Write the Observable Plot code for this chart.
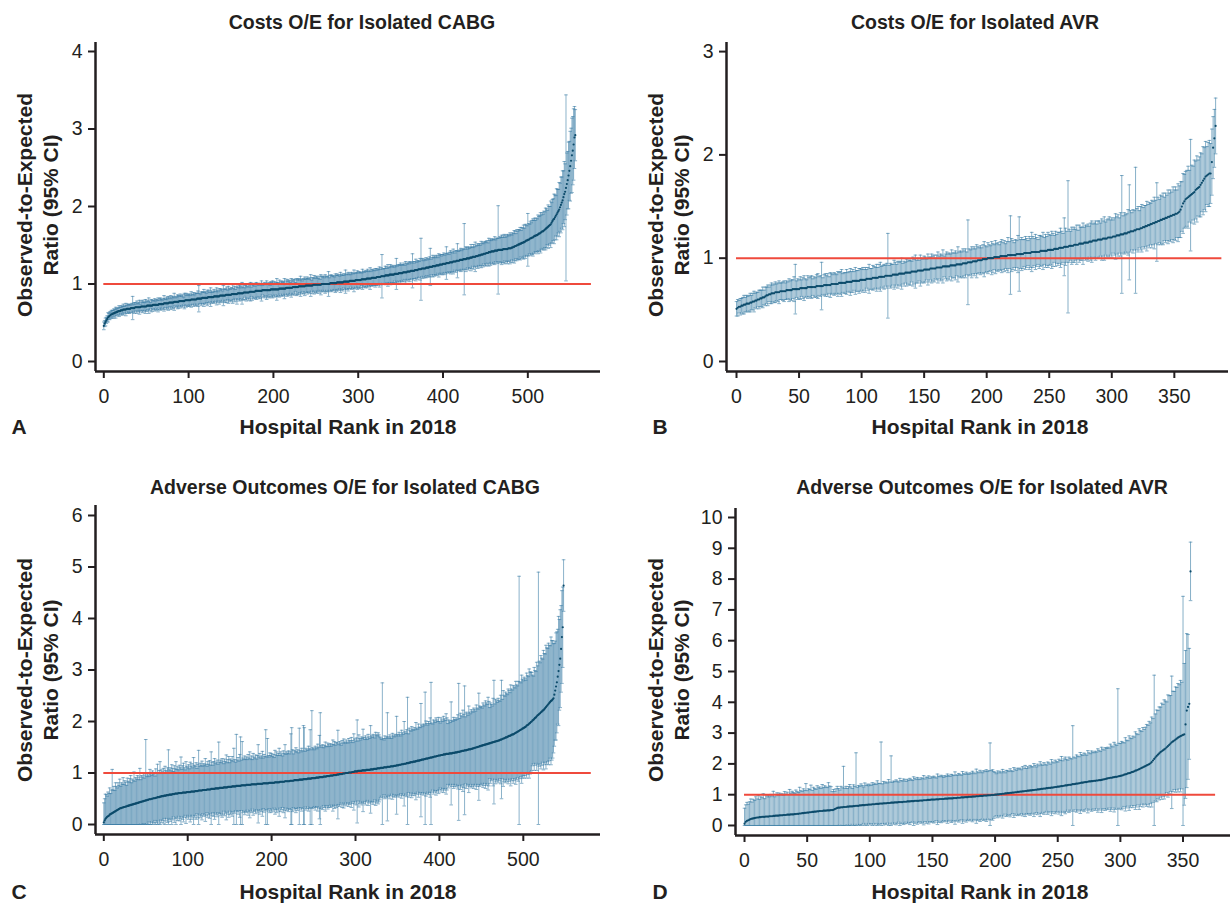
<!DOCTYPE html>
<html>
<head>
<meta charset="utf-8">
<script src="https://cdn.jsdelivr.net/npm/d3@7"></script>
<script src="https://cdn.jsdelivr.net/npm/@observablehq/plot@0.6"></script>
<style>
  html, body { margin: 0; padding: 0; background: #ffffff; }
  #fig { position: relative; width: 1232px; height: 903px; overflow: hidden; font-family: "Liberation Sans", Arial, Helvetica, sans-serif; color: #231f20; }
  .pan { position: absolute; }
  .t { position: absolute; transform: translate(-50%, -50%); white-space: nowrap; font-weight: bold; }
  .title { font-size: 19.5px; }
  .xlab { font-size: 21px; }
  .ylab { font-size: 21px; line-height: 25.5px; text-align: center; transform: translate(-50%, -50%) rotate(-90deg); }
  .letter { font-size: 21px; }
</style>
</head>
<body>
<div id="fig"></div>
<script>
// ---------------- DATA (O/E in hundredths) ----------------
const xTicksA = [0, 100, 200, 300, 400, 500];
const yTicksA = [0, 1, 2, 3, 4];
const xTicksB = [0, 50, 100, 150, 200, 250, 300, 350];
const yTicksB = [0, 1, 2, 3];
const xTicksC = [0, 100, 200, 300, 400, 500];
const yTicksC = [0, 1, 2, 3, 4, 5, 6];
const xTicksD = [0, 50, 100, 150, 200, 250, 300, 350];
const yTicksD = [0, 1, 2, 3, 4, 5, 6, 7, 8, 9, 10];
const referenceRatio = 1;

// Panel A: Costs O/E, isolated CABG (observed-to-expected ratio x100, CI half-width x100)
const oeA = [
46,49,51,53,55,57,58,59,60,61, 61,62,62,63,63,64,64,65,65,65, 66,66,66,67,67,67,67,68,68,68, 68,68,69,69,69,69,69,70,70,70,
70,70,70,70,71,71,71,71,71,71, 71,72,72,72,72,72,72,72,73,73, 73,73,73,73,73,74,74,74,74,74, 74,75,75,75,75,75,75,76,76,76,
76,76,76,77,77,77,77,77,77,78, 78,78,78,78,78,78,79,79,79,79, 79,79,79,80,80,80,80,80,80,80, 81,81,81,81,81,81,82,82,82,82,
82,82,82,83,83,83,83,83,83,83, 84,84,84,84,84,84,84,85,85,85, 85,85,85,85,86,86,86,86,86,86, 86,87,87,87,87,87,87,87,88,88,
88,88,88,88,88,89,89,89,89,89, 89,89,90,90,90,90,90,90,90,91, 91,91,91,91,91,91,91,92,92,92, 92,92,92,92,92,92,92,93,93,93,
93,93,93,93,93,93,93,94,94,94, 94,94,94,94,94,95,95,95,95,95, 95,95,95,96,96,96,96,96,96,96, 97,97,97,97,97,97,97,97,98,98,
98,98,98,98,98,98,98,99,99,99, 99,99,99,99,99,99,99,100,100,100, 100,100,100,100,100,100,100,101,101,101, 101,101,101,101,101,102,102,102,102,102,
102,102,102,103,103,103,103,103,103,103, 104,104,104,104,104,104,104,105,105,105, 105,105,105,105,106,106,106,106,106,106, 107,107,107,107,107,107,108,108,108,108,
108,108,109,109,109,109,109,110,110,110, 110,110,111,111,111,111,111,112,112,112, 112,112,112,113,113,113,113,113,114,114, 114,114,114,115,115,115,115,115,116,116,
116,116,117,117,117,117,117,118,118,118, 118,119,119,119,119,120,120,120,120,120, 121,121,121,121,122,122,122,122,123,123, 123,123,124,124,124,124,125,125,125,125,
126,126,126,126,127,127,127,127,128,128, 128,128,129,129,129,129,130,130,130,130, 131,131,131,131,132,132,132,132,133,133, 133,133,134,134,134,135,135,135,135,136,
136,136,137,137,137,138,138,138,139,139, 139,140,140,140,141,141,141,142,142,142, 142,143,143,143,143,144,144,144,144,144, 144,145,145,145,145,145,145,146,146,146,
146,147,147,148,148,149,149,150,150,151, 151,152,152,153,153,154,154,155,156,156, 157,157,158,159,159,160,160,161,162,162, 163,163,164,165,165,166,167,168,168,169,
170,171,172,173,174,175,176,177,179,181, 183,184,186,188,190,192,194,196,199,202, 205,208,212,216,219,224,229,234,240,246,
252,259,266,272,280,289,292
];
const hwA = [
5,4,5,4,4,6,4,5,4,5, 5,4,6,4,7,4,5,4,7,5, 4,6,5,7,4,5,8,4,6,5, 6,5,4,6,15,5,7,6,4,8,
5,6,9,4,7,5,8,6,5,9, 6,7,5,10,6,4,8,7,5,6, 8,5,7,6,9,5,7,8,6,5, 7,10,6,5,8,6,9,7,5,9,
6,8,7,11,5,7,6,9,8,6, 9,7,6,8,5,10,7,9,6,8, 7,8,6,10,7,6,9,6,8,8, 7,10,17,7,6,9,7,8,11,7,
8,6,10,7,9,6,12,8,6,7, 9,7,6,11,8,6,10,7,9,8, 6,13,8,9,7,10,6,11,8,7, 9,8,12,7,10,6,9,13,8,7,
10,9,7,14,8,10,6,9,11,8, 7,10,9,12,6,11,8,9,7,10, 11,8,9,7,10,9,13,6,9,8, 10,7,12,9,8,10,6,10,9,11,
8,10,7,9,14,9,8,11,7,9, 10,8,9,13,7,9,11,8,10,9, 7,12,9,10,8,10,6,11,9,10, 10,8,13,9,7,10,9,12,8,9,
11,9,8,10,14,7,10,9,12,8, 10,11,9,8,11,7,13,10,9,10, 8,12,10,9,10,16,8,10,11,9, 10,9,8,12,10,11,9,10,8,13,
10,9,11,8,10,15,9,10,12,9, 10,8,11,10,9,14,10,9,10,12, 9,11,10,10,8,13,10,9,11,10, 10,12,9,10,14,9,11,10,10,9,
12,10,11,9,10,13,10,11,28,9, 10,10,12,11,9,14,10,10,13,11, 10,12,10,9,11,20,10,12,10,11, 13,10,11,10,12,9,14,11,10,12,
10,13,11,10,22,12,10,11,14,10, 12,11,10,14,40,11,13,10,12,11, 13,10,12,11,13,24,10,12,14,11, 13,11,13,12,10,15,12,13,11,13,
12,14,11,13,21,12,13,11,13,15, 13,12,16,13,11,14,13,22,12,13, 13,15,12,14,13,46,13,16,14,12, 15,13,13,17,14,12,16,13,19,13,
14,16,13,15,13,17,14,16,13,15, 16,14,16,13,18,15,17,14,16,16, 15,18,14,16,16,57,15,17,16,19, 16,17,19,15,18,16,19,17,16,20,
18,16,19,17,21,19,16,20,18,19, 19,21,17,20,19,22,18,22,20,19, 34,21,19,22,20,22,24,21,23,20, 22,21,25,22,23,26,22,24,22,25,
23,27,25,22,28,25,24,30,26,28, 27,32,29,26,33,30,28,35,31,36, 33,38,34,42,36,120,40,37,43,38,
45,42,48,44,46,40,33
];

// Panel B: Costs O/E, isolated AVR
const oeB = [
51,52,53,53,54,54,55,55,56,56, 56,57,57,58,58,59,59,60,60,61, 61,62,62,63,64,64,65,65,66,66, 66,67,67,67,67,68,68,68,68,68,
69,69,69,69,69,70,70,70,70,70, 70,71,71,71,71,71,71,72,72,72, 72,72,72,72,73,73,73,73,73,73, 74,74,74,74,74,74,75,75,75,75,
75,75,76,76,76,76,76,76,77,77, 77,77,77,78,78,78,78,78,78,79, 79,79,79,79,80,80,80,80,80,81, 81,81,81,81,82,82,82,82,82,83,
83,83,83,83,83,84,84,84,84,84, 85,85,85,85,85,86,86,86,86,86, 87,87,87,87,87,88,88,88,88,88, 89,89,89,89,89,90,90,90,90,90,
91,91,91,91,91,92,92,92,92,92, 92,93,93,93,93,93,94,94,94,94, 94,95,95,95,95,96,96,96,96,97, 97,97,97,98,98,98,98,99,99,99,
99,100,100,100,100,100,101,101,101,101, 101,102,102,102,102,102,102,103,103,103, 103,103,103,103,104,104,104,104,104,104, 105,105,105,105,105,105,106,106,106,106,
106,106,106,107,107,107,107,107,107,108, 108,108,108,108,109,109,109,109,110,110, 110,110,111,111,111,111,112,112,112,112, 113,113,113,113,114,114,114,114,115,115,
115,115,116,116,116,117,117,117,117,118, 118,118,118,119,119,119,119,120,120,120, 120,121,121,121,122,122,122,123,123,123, 124,124,124,125,125,126,126,126,127,127,
128,128,128,129,129,130,130,131,131,132, 132,133,133,134,134,135,135,136,136,137, 137,138,138,139,139,140,140,141,141,142, 142,143,143,144,145,147,150,153,155,157,
158,159,160,161,162,163,164,166,167,168, 169,171,173,175,177,179,180,181,182,182, 193,207,216,228
];
const hwB = [
7,8,6,8,7,8,9,7,8,7, 8,9,7,8,10,7,8,7,9,8, 8,10,7,9,8,10,7,9,10,8, 9,10,8,9,11,8,8,9,10,8,
9,8,11,9,10,9,12,24,8,10, 9,11,8,10,12,9,8,11,9,10, 11,8,10,9,11,12,9,10,23,8, 10,11,9,11,8,12,10,9,11,10,
9,12,10,11,13,9,10,10,12,9, 10,13,10,11,9,13,10,10,12,11, 10,12,10,12,9,11,14,10,10,12, 11,10,13,10,12,14,10,11,12,10,
12,41,10,12,11,10,14,12,10,13, 11,12,15,10,12,10,13,11,12,12, 10,14,12,16,11,12,10,15,12,11, 13,12,10,15,12,11,14,12,13,10,
12,15,11,13,12,16,10,12,14,12, 13,11,15,12,12,14,11,17,12,13, 12,14,12,14,11,41,13,12,15,12, 14,12,16,13,12,14,12,14,17,13,
12,15,13,12,16,14,12,16,13,14, 12,14,16,13,15,12,14,17,13,38, 16,14,12,15,13,18,36,14,16,14, 13,16,14,12,16,14,19,15,13,17,
14,12,16,15,14,18,13,16,14,17, 15,14,18,16,13,17,14,16,15,19, 16,14,28,18,15,64,16,14,18,16, 17,15,19,14,18,16,16,20,15,17,
16,18,15,18,20,16,17,19,16,18, 18,16,20,17,21,16,18,18,20,17, 19,16,18,22,18,20,17,21,57,18, 20,18,19,22,46,20,18,21,19,61,
20,22,18,21,23,19,21,20,24,20, 22,20,23,21,25,21,38,23,21,24, 23,25,21,24,22,26,23,25,23,27, 24,26,23,28,25,27,24,29,26,27,
27,30,25,54,28,26,31,28,32,27, 29,31,28,33,30,34,28,31,32,29, 32,30,28,27
];

// Panel C: Adverse outcomes O/E, isolated CABG
const oeC = [
4,8,11,13,15,16,17,19,20,21, 22,23,24,25,26,27,28,29,30,31, 32,32,33,33,34,34,35,35,36,36, 37,37,38,38,39,39,40,40,41,41,
42,42,43,43,44,44,45,45,46,46, 47,47,48,48,49,49,49,50,50,51, 51,51,52,52,53,53,53,54,54,55, 55,55,56,56,56,57,57,57,58,58,
58,58,59,59,59,60,60,60,60,61, 61,61,61,61,62,62,62,62,62,63, 63,63,63,63,64,64,64,64,64,65, 65,65,65,66,66,66,66,66,67,67,
67,67,67,68,68,68,68,68,69,69, 69,69,69,70,70,70,70,70,71,71, 71,71,71,72,72,72,72,72,73,73, 73,73,73,74,74,74,74,74,75,75,
75,75,75,75,76,76,76,76,76,76, 77,77,77,77,77,77,78,78,78,78, 78,78,78,79,79,79,79,79,79,79, 80,80,80,80,80,80,80,81,81,81,
81,81,81,81,82,82,82,82,82,82, 83,83,83,83,83,83,84,84,84,84, 84,84,85,85,85,85,85,86,86,86, 86,86,86,87,87,87,87,87,88,88,
88,88,88,89,89,89,89,89,90,90, 90,90,90,91,91,91,91,92,92,92, 92,92,93,93,93,93,94,94,94,94, 95,95,95,95,96,96,96,96,97,97,
97,98,98,98,98,99,99,99,100,100, 100,100,101,101,101,101,102,102,102,103, 103,103,103,104,104,104,104,104,105,105, 105,105,105,106,106,106,106,106,107,107,
107,107,108,108,108,108,109,109,109,109, 110,110,110,110,111,111,111,111,112,112, 112,112,113,113,113,113,114,114,114,115, 115,115,116,116,116,117,117,117,118,118,
118,119,119,119,120,120,121,121,121,122, 122,122,123,123,124,124,124,125,125,126, 126,126,127,127,128,128,128,129,129,130, 130,130,131,131,132,132,132,133,133,134,
134,134,135,135,135,136,136,136,137,137, 137,137,138,138,138,138,139,139,139,140, 140,140,141,141,141,142,142,143,143,143, 144,144,144,145,145,146,146,146,147,147,
148,148,149,149,150,150,151,151,152,152, 153,153,154,154,155,155,156,156,157,157, 158,158,159,159,160,160,161,161,162,162, 163,163,164,165,165,166,167,167,168,169,
169,170,171,172,172,173,174,175,175,176, 177,178,179,180,181,182,183,184,185,186, 187,188,189,190,192,193,194,196,197,199, 200,202,203,205,207,208,210,212,213,215,
216,218,219,221,222,224,226,228,230,232, 234,236,238,240,241,243,245,252,260,268, 276,287,298,310,322,341,364,383,464
];
const hwC = [
38,42,48,45,40,47,43,52,40,46, 85,44,50,41,55,47,43,52,46,57, 42,49,45,58,44,51,47,41,54,48, 45,52,57,43,49,46,62,44,50,47,
53,45,49,66,43,51,47,55,44,50, 118,46,52,48,44,58,49,45,54,47, 50,43,56,48,64,46,52,68,45,51, 47,54,44,57,49,45,53,88,48,52,
46,58,50,44,55,48,62,47,52,45, 54,49,70,46,52,57,48,44,60,50, 47,53,45,58,49,54,46,66,51,48, 55,44,52,78,47,53,49,57,46,51,
48,61,50,45,54,49,56,47,72,52, 46,53,59,48,51,55,47,90,50,54, 49,57,52,46,55,50,63,48,53,59, 47,54,51,58,49,74,52,47,100,50,
55,48,61,95,49,85,53,50,57,51, 54,49,59,52,64,50,55,48,60,53, 51,57,49,55,76,52,59,50,54,63, 49,56,52,104,51,87,54,50,58,53,
57,51,55,49,62,53,59,52,56,66, 51,58,54,50,60,55,71,52,57,54, 59,53,56,91,103,60,52,58,55,63, 55,59,53,100,57,54,61,56,104,100,
54,60,57,55,63,58,95,56,131,59, 57,55,62,58,56,65,59,81,125,61, 58,63,56,60,67,59,57,64,61,58, 62,57,60,69,59,65,58,63,61,86,
58,63,60,56,65,59,67,61,58,64, 60,58,66,62,59,68,61,57,74,63, 59,65,100,58,70,63,60,66,62,80, 64,60,67,62,59,69,64,61,85,65,
62,68,64,60,71,66,63,69,65,61, 58,55,165,57,53,61,56,59,105,58, 55,62,57,54,64,59,56,61,58,95, 60,57,63,59,56,66,61,58,82,62,
59,65,128,57,67,63,60,69,64,61, 66,62,75,64,61,71,65,63,110,67, 64,69,66,130,73,68,65,71,67,77, 146,67,64,72,69,66,75,70,67,74,
66,63,72,68,65,74,69,66,78,70, 59,66,63,60,100,64,61,69,65,62, 67,64,72,133,65,74,69,66,79,71, 125,65,74,70,67,84,72,69,76,73,
70,78,74,71,82,76,73,104,78,75, 76,73,82,78,75,85,80,77,90,82, 69,78,74,71,85,120,73,82,78,75, 82,78,75,86,115,77,93,84,81,88,
85,82,92,88,84,98,89,86,95,91, 88,100,92,89,97,300,94,91,105,96, 92,98,94,90,102,96,93,106,99,97, 95,88,85,100,92,89,105,96,277,102,
98,110,104,100,116,108,105,120,113,110, 118,112,109,124,116,114,106,100,96,104, 98,92,106,88,95,84,90,78,50
];

// Panel D: Adverse outcomes O/E, isolated AVR
const oeD = [
6,12,15,17,19,21,22,23,24,25, 26,26,27,27,28,28,28,29,29,29, 30,30,30,31,31,32,32,32,33,33, 33,34,34,34,35,35,35,36,36,36,
37,37,38,38,39,39,40,40,41,41, 42,42,43,43,44,44,45,45,46,46, 47,47,47,48,48,48,49,49,49,50, 50,51,53,55,57,58,58,59,59,60,
60,60,61,61,62,62,62,63,63,64, 64,64,65,65,66,66,66,67,67,68, 68,68,69,69,69,70,70,70,71,71, 71,72,72,72,73,73,73,74,74,74,
75,75,75,76,76,76,76,77,77,77, 78,78,78,79,79,79,80,80,80,80, 81,81,81,82,82,82,83,83,83,84, 84,84,84,85,85,85,86,86,86,86,
87,87,87,88,88,88,88,89,89,89, 90,90,90,91,91,91,92,92,92,93, 93,93,94,94,94,95,95,95,96,96, 96,97,97,97,98,98,98,99,99,99,
100,100,101,101,102,102,103,103,104,104, 105,105,106,106,107,107,108,108,109,109, 110,110,111,111,112,112,113,113,114,114, 115,115,116,116,117,117,118,119,119,120,
120,121,121,122,122,123,123,124,125,125, 126,126,127,128,128,129,130,130,131,132, 132,133,134,134,135,136,136,137,138,139, 139,140,141,141,142,143,143,144,144,145,
145,146,146,147,147,148,149,150,151,152, 153,154,155,155,156,157,158,158,159,160, 161,162,163,165,166,167,169,170,171,173, 174,176,178,179,181,183,185,187,189,191,
193,195,197,199,202,206,211,216,221,226, 230,234,238,241,244,247,250,254,258,262, 266,270,273,276,279,282,285,288,290,292,
294,296,328,373,385,395,825
];
const hwD = [
50,55,60,52,58,65,54,62,57,68, 60,72,58,66,62,75,59,70,64,68, 63,71,66,80,62,69,74,65,72,67, 70,64,76,68,73,66,82,69,75,71,
67,78,72,69,85,74,70,79,73,95, 71,77,74,88,70,80,75,72,83,76, 78,73,86,75,81,77,74,90,79,76, 60,66,58,64,70,62,57,68,63,132,
61,67,59,65,71,63,58,69,64,172, 60,66,62,70,64,59,72,63,67,61, 66,62,70,64,68,63,75,67,65,200, 64,71,66,69,65,76,68,152,66,70,
67,73,69,65,77,70,68,74,71,66, 72,68,75,70,67,79,73,69,76,71, 68,74,71,80,69,75,72,78,70,74, 71,76,73,69,82,75,72,77,74,70,
75,72,80,74,71,78,76,73,85,75, 73,79,75,72,84,77,74,81,76,73, 78,75,82,77,74,88,79,76,83,78, 75,81,78,84,77,80,170,79,82,76,
72,68,76,70,74,69,79,72,67,75, 73,70,78,72,68,81,75,71,77,74, 76,71,80,75,83,73,78,74,81,77, 75,86,79,74,82,77,89,80,76,84,
79,75,85,81,77,91,83,79,87,82, 80,89,84,96,82,87,92,85,81,90, 86,83,190,88,84,93,89,86,99,91, 88,95,91,87,101,93,90,98,94,91,
96,92,103,97,93,106,99,95,102,98, 101,97,109,103,99,113,106,102,285,107, 105,111,107,103,119,110,106,121,113,109, 116,111,126,119,114,131,123,118,129,121,
126,133,128,139,131,146,136,272,141,149, 143,151,146,156,149,161,154,147,166,159, 156,215,163,159,171,166,176,169,181,173,
450,230,240,250,235,180,95
];

// ---------------- DRAWING ----------------
const FONT = "'Liberation Sans', Arial, Helvetica, sans-serif";
const INK = "#231f20";
const BAR = "#3d7fa6";
const DOT = "#0c4b6b";
const RED = "#ef4a3c";

function rowsFrom(oe, hw) {
  return oe.map((v, i) => ({
    rank: i,
    oe: v / 100,
    lo: Math.max(0, v - hw[i]) / 100,
    hi: (v + hw[i]) / 100
  }));
}

const capSymbol = {
  draw(context, size) {
    const w = Math.sqrt(size / Math.PI);
    context.moveTo(-w, 0);
    context.lineTo(w, 0);
  }
};

function panel(cfg) {
  const rows = rowsFrom(cfg.oe, cfg.hw);
  return Plot.plot({
    width: cfg.width,
    height: cfg.height,
    marginLeft: cfg.ml, marginRight: cfg.mr, marginTop: cfg.mt, marginBottom: cfg.mb,
    x: {domain: cfg.xDomain},
    y: {domain: cfg.yDomain},
    style: {fontFamily: FONT, fontSize: "19.5px", color: INK, background: "transparent", overflow: "visible"},
    marks: [
      Plot.ruleX(rows, {x: "rank", y1: "lo", y2: "hi", stroke: BAR, strokeWidth: 1, strokeOpacity: cfg.barOpacity}),
      Plot.dot(rows, {x: "rank", y: "hi", symbol: capSymbol, r: 1.8, stroke: BAR, strokeWidth: 1, strokeOpacity: cfg.barOpacity}),
      Plot.dot(rows, {x: "rank", y: "lo", symbol: capSymbol, r: 1.8, stroke: BAR, strokeWidth: 1, strokeOpacity: cfg.barOpacity}),
      Plot.ruleY([referenceRatio], {x1: 0, x2: cfg.refEnd, stroke: RED, strokeWidth: 2}),
      Plot.dot(rows, {x: "rank", y: "oe", r: 1.1, fill: DOT, stroke: "none"}),
      Plot.ruleX([cfg.xDomain[0]], {stroke: INK, strokeWidth: 2.5}),
      Plot.ruleY([cfg.yDomain[0]], {stroke: INK, strokeWidth: 2.5}),
      Plot.axisX({ticks: cfg.xTicks, tickSize: 7, tickPadding: 11, strokeWidth: 2, stroke: INK, label: null, tickFormat: d => String(d)}),
      Plot.axisY({ticks: cfg.yTicks, tickSize: 7, tickPadding: 6, strokeWidth: 2, stroke: INK, label: null, tickFormat: d => String(d)})
    ]
  });
}

const fig = document.getElementById("fig");

function place(node, left, top) {
  const d = document.createElement("div");
  d.className = "pan";
  d.style.left = left + "px";
  d.style.top = top + "px";
  d.appendChild(node);
  fig.appendChild(d);
}

function text(cls, content, x, y) {
  const d = document.createElement("div");
  d.className = "t " + cls;
  d.innerHTML = content;
  d.style.left = x + "px";
  d.style.top = y + "px";
  fig.appendChild(d);
}

place(panel({oe: oeA, hw: hwA, width: 620, height: 430, ml: 95, mr: 20, mt: 42, mb: 59,
  xDomain: [-9.8, 585.7], yDomain: [-0.129, 4.116], xTicks: xTicksA, yTicks: yTicksA, refEnd: 575, barOpacity: 0.6}), 0, 0);
place(panel({oe: oeB, hw: hwB, width: 612, height: 430, ml: 106, mr: 4, mt: 42, mb: 59,
  xDomain: [-8, 393.3], yDomain: [-0.097, 3.088], xTicks: xTicksB, yTicks: yTicksB, refEnd: 388, barOpacity: 0.62}), 620, 0);
place(panel({oe: oeC, hw: hwC, width: 620, height: 430, ml: 95, mr: 20, mt: 45, mb: 56,
  xDomain: [-9.9, 592], yDomain: [-0.194, 6.194], xTicks: xTicksC, yTicks: yTicksC, refEnd: 581, barOpacity: 0.6}), 0, 460);
place(panel({oe: oeD, hw: hwD, width: 612, height: 430, ml: 115, mr: 2, mt: 48, mb: 55,
  xDomain: [-7.2, 387.9], yDomain: [-0.325, 10.292], xTicks: xTicksD, yTicks: yTicksD, refEnd: 376, barOpacity: 0.62}), 620, 460);

text("title", "Costs O/E for Isolated CABG", 362, 22);
text("title", "Costs O/E for Isolated AVR", 975, 22);
text("title", "Adverse Outcomes O/E for Isolated CABG", 345, 487);
text("title", "Adverse Outcomes O/E for Isolated AVR", 982, 487);

text("xlab", "Hospital Rank in 2018", 348, 427);
text("xlab", "Hospital Rank in 2018", 980, 427);
text("xlab", "Hospital Rank in 2018", 348, 892);
text("xlab", "Hospital Rank in 2018", 980, 892);

text("ylab", "Observed-to-Expected<br>Ratio (95% CI)", 37, 205);
text("ylab", "Observed-to-Expected<br>Ratio (95% CI)", 668, 205);
text("ylab", "Observed-to-Expected<br>Ratio (95% CI)", 37, 670);
text("ylab", "Observed-to-Expected<br>Ratio (95% CI)", 668, 670);

text("letter", "A", 19, 427);
text("letter", "B", 660, 427);
text("letter", "C", 19, 892);
text("letter", "D", 660, 892);
</script>
</body>
</html>
